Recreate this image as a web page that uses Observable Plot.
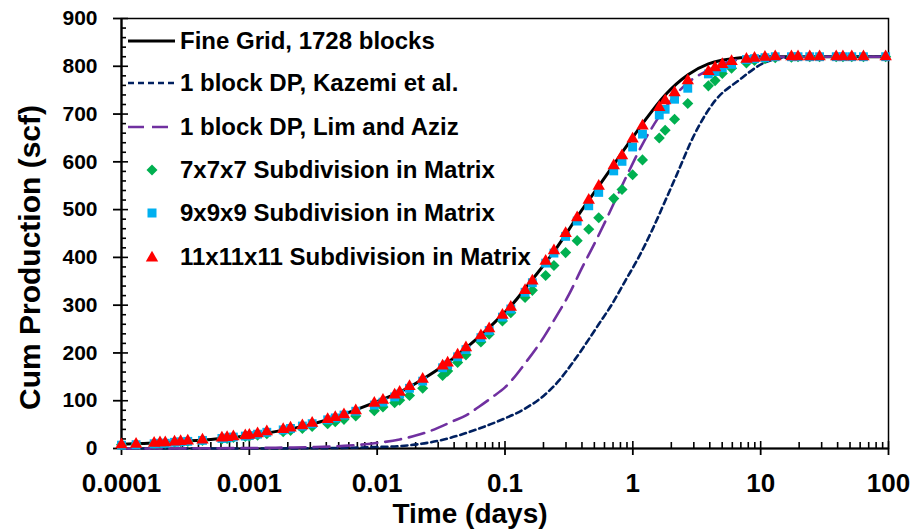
<!DOCTYPE html>
<html><head><meta charset="utf-8">
<script src="https://cdn.jsdelivr.net/npm/d3@7"></script>
<script src="https://cdn.jsdelivr.net/npm/@observablehq/plot@0.6"></script>
<style>
body{margin:0;background:#fff;}
#wrap{position:relative;width:915px;height:529px;font-family:"Liberation Sans",Arial,sans-serif;font-weight:bold;}
#legend{position:absolute;left:0;top:0;width:915px;height:529px;}
#chart{position:absolute;left:0;top:0;}
.row{position:absolute;left:128px;height:30px;display:flex;align-items:center;font-size:24px;color:#000;white-space:nowrap;}
.row svg{display:block;flex:none;}
</style></head><body>
<div id="wrap"><div id="legend"></div><div id="chart"></div></div>
<script>
// ---- data ----
const xTicks = [0.0001, 0.001, 0.01, 0.1, 1, 10, 100];
const xTickLabels = ["0.0001", "0.001", "0.01", "0.1", "1", "10", "100"];
const yTicks = [0, 100, 200, 300, 400, 500, 600, 700, 800, 900];
const yTickLabels = ["0", "100", "200", "300", "400", "500", "600", "700", "800", "900"];

const fineTimes  = [0.0001, 0.0002, 0.0003, 0.0005, 0.001, 0.002, 0.003, 0.005, 0.0095, 0.015, 0.0227, 0.0325, 0.05, 0.075, 0.111, 0.164, 0.249, 0.316, 0.357, 0.541, 0.798, 1.178, 1.79, 2.72, 3.9, 7.05, 10, 100];
const fineValues = [9, 12, 15, 19, 27, 40, 50, 68, 96, 118, 145, 172, 211, 253, 298, 354, 417, 458, 480, 549, 614, 678, 740, 783, 805, 818, 820, 820];

const kazemiTimes  = [0.0001, 0.001, 0.003, 0.0095, 0.015, 0.025, 0.037, 0.06, 0.09, 0.14, 0.2, 0.264, 0.335, 0.426, 0.541, 0.687, 0.873, 1.11, 1.41, 1.79, 2.14, 3.07, 4.4, 6.7, 10.8, 15.4, 30, 100];
const kazemiValues = [0, 0, 0.5, 3, 5, 12, 22, 40, 58, 82, 110, 142, 178, 218, 260, 302, 351, 400, 456, 518, 565, 660, 728, 770, 808, 818, 820, 820];

const limTimes  = [0.0001, 0.0003, 0.001, 0.002, 0.0033, 0.0055, 0.0095, 0.015, 0.02, 0.0256, 0.039, 0.05, 0.063, 0.08, 0.1, 0.15, 0.2, 0.25, 0.316, 0.4, 0.51, 0.647, 0.875, 1.18, 1.58, 2.6, 3.9, 5.9, 10, 20, 100];
const limValues = [0, 0.3, 1, 2, 3, 5.5, 11, 19, 27, 36, 57, 70, 88, 108, 128, 185, 232, 275, 322, 378, 433, 490, 565, 635, 692, 762, 792, 811, 818, 820, 820];

const markerTimes = [0.0001, 0.00013, 0.00018, 0.0002, 0.00022, 0.00026, 0.00029, 0.00033, 0.00043, 0.00061, 0.00067, 0.00075, 0.00093, 0.001, 0.00116, 0.00137, 0.00184, 0.0021, 0.0026, 0.0031, 0.0041, 0.0047, 0.0055, 0.0068, 0.0095, 0.0111, 0.0137, 0.015, 0.0179, 0.0227, 0.0325, 0.0356, 0.0426, 0.0495, 0.0648, 0.0752, 0.0955, 0.111, 0.1435, 0.1637, 0.208, 0.2415, 0.298, 0.367, 0.452, 0.541, 0.709, 0.823, 0.996, 1.19, 1.61, 1.79, 2.12, 2.69, 3.9, 4.4, 5.01, 5.92, 7.74, 8.95, 10.8, 13, 17.4, 19.6, 24.2, 28.9, 39, 44, 51.6, 63.7, 95];
const green7 = [8, 9, 10, 11, 11, 13, 14, 15, 17, 20, 21, 23, 25, 26, 28, 31, 35, 38, 42, 46, 52, 56, 61, 68, 79, 87, 96, 101, 111, 126, 153, 162, 180, 196, 223, 239, 267, 284, 316, 331, 362, 383, 410, 435, 459, 483, 523, 542, 573, 604, 650, 666, 689, 722, 759, 770, 785, 796, 807, 812, 816, 818, 819, 820, 820, 820, 820, 820, 820, 820, 820];
const blue9 = [7, 8, 10, 11, 11, 13, 14, 15, 17, 21, 22, 24, 26, 27, 30, 34, 39, 42, 47, 52, 60, 64, 70, 78, 91, 97, 108, 114, 126, 141, 169, 175, 192, 207, 232, 247, 275, 292, 327, 347, 388, 409, 444, 476, 508, 536, 581, 601, 631, 658, 698, 710, 731, 754, 784, 789, 797, 804, 814, 816, 818, 820, 820, 820, 820, 820, 820, 820, 820, 820, 820];
const red11 = [8, 9, 11, 12, 12, 14, 15, 16, 18, 22, 23, 25, 27, 28, 31, 35, 40, 43, 48, 53, 61, 65, 71, 79, 95, 101, 112, 118, 130, 145, 173, 179, 196, 211, 236, 251, 279, 296, 331, 351, 392, 414, 450, 483, 520, 549, 592, 613, 648, 675, 714, 728, 745, 770, 789, 797, 804, 810, 815, 817, 819, 820, 820, 820, 820, 820, 820, 820, 820, 820, 820];

const seriesNames = ["Fine Grid, 1728 blocks", "1 block DP, Kazemi et al.", "1 block DP, Lim and Aziz", "7x7x7 Subdivision in Matrix", "9x9x9 Subdivision in Matrix", "11x11x11 Subdivision in Matrix"];
const seriesColors = ["#000000", "#002060", "#7030A0", "#00B050", "#00B0F0", "#FF0000"];
const xTitle = "Time (days)";
const yTitle = "Cum Production (scf)";

// ---- tables ----
const toRows = (ts, vs) => ts.map((t, i) => ({t, v: vs[i]}));
const fine = toRows(fineTimes, fineValues);
const kazemi = toRows(kazemiTimes, kazemiValues);
const lim = toRows(limTimes, limValues);
const g7 = toRows(markerTimes, green7);
const b9 = toRows(markerTimes, blue9);
const r11 = toRows(markerTimes, red11);

const xMinor = [];
for (let e = -4; e < 2; e++) for (let m = 2; m <= 9; m++) xMinor.push(m * Math.pow(10, e));
const yMinor = d3.range(0, 901, 20).filter(v => v % 100 !== 0);

const font = "Liberation Sans, Arial, sans-serif";
const tickOnly = {fill: "none", label: null, strokeWidth: 1.6};

const chart = Plot.plot({
  width: 915, height: 529,
  marginLeft: 121, marginRight: 27, marginTop: 18, marginBottom: 81,
  style: {fontFamily: font, fontWeight: "bold", color: "#000", background: "transparent", overflow: "visible"},
  x: {type: "log", domain: [0.0001, 100]},
  y: {domain: [0, 900]},
  marks: [
    Plot.frame({stroke: "#000", strokeWidth: 1.5}),
    // x axis
    Plot.axisX({ticks: xTicks, tickSize: 7, tickPadding: 18, fontSize: 26, strokeWidth: 1.8,
      tickFormat: d => xTickLabels[xTicks.indexOf(d)], label: null}),
    Plot.axisX({ticks: xTicks, tickSize: -7, ...tickOnly}),
    Plot.axisX({ticks: xMinor, tickSize: -6, ...tickOnly}),
    // y axis
    Plot.axisY({ticks: yTicks, tickSize: 8, tickPadding: 16, fontSize: 21, strokeWidth: 1.8,
      tickFormat: d => yTickLabels[yTicks.indexOf(d)], label: null}),
    Plot.axisY({ticks: yTicks, tickSize: -7, ...tickOnly}),
    Plot.axisY({ticks: yMinor, tickSize: -5, ...tickOnly}),
    Plot.ruleY([0], {stroke: "#000", strokeWidth: 2.2}),
    Plot.ruleX([0.0001], {stroke: "#000", strokeWidth: 2.2}),
    // titles
    Plot.text([xTitle], {frameAnchor: "bottom", textAnchor: "middle", lineAnchor: "middle", dx: -35, dy: 66, fontSize: 28, fontWeight: "bold", fill: "#000"}),
    Plot.text([yTitle], {frameAnchor: "left", textAnchor: "middle", lineAnchor: "middle", rotate: -90, dx: -91, dy: 24, fontSize: 30, fontWeight: "bold", fill: "#000"}),
    // lines
    Plot.line(fine, {x: "t", y: "v", stroke: seriesColors[0], strokeWidth: 3, curve: "monotone-x"}),
    Plot.line(kazemi, {x: "t", y: "v", stroke: seriesColors[1], strokeWidth: 2.6, strokeDasharray: "6,4", curve: "monotone-x"}),
    Plot.line(lim, {x: "t", y: "v", stroke: seriesColors[2], strokeWidth: 2.6, strokeDasharray: "16,8", curve: "monotone-x"}),
    // markers
    Plot.dot(g7, {x: "t", y: "v", symbol: "diamond2", r: 5, fill: seriesColors[3], stroke: "none"}),
    Plot.dot(b9, {x: "t", y: "v", symbol: "square", r: 5, fill: seriesColors[4], stroke: "none"}),
    Plot.dot(r11, {x: "t", y: "v", symbol: "triangle", r: 4.6, fill: seriesColors[5], stroke: "none"})
  ]
});
document.getElementById("chart").appendChild(chart);

// ---- legend (behind the plot, like the reference) ----
const rowY = [41, 83, 127, 170, 213, 257];
const swatch = [
  `<line x1="0" y1="15" x2="47" y2="15" stroke="${seriesColors[0]}" stroke-width="3"/>`,
  `<line x1="0" y1="15" x2="47" y2="15" stroke="${seriesColors[1]}" stroke-width="2.6" stroke-dasharray="6,4"/>`,
  `<line x1="0" y1="15" x2="47" y2="15" stroke="${seriesColors[2]}" stroke-width="2.6" stroke-dasharray="16,8"/>`,
  `<path d="M24,9.5L29.5,15L24,20.5L18.5,15Z" fill="${seriesColors[3]}"/>`,
  `<rect x="19.5" y="10.5" width="9" height="9" fill="${seriesColors[4]}"/>`,
  `<path d="M24,8.8L30.2,19.5L17.8,19.5Z" fill="${seriesColors[5]}"/>`
];
const legend = document.getElementById("legend");
seriesNames.forEach((name, i) => {
  const row = document.createElement("div");
  row.className = "row";
  row.style.top = (rowY[i] - 15) + "px";
  row.innerHTML = `<svg width="52" height="30">${swatch[i]}</svg><span>${name}</span>`;
  legend.appendChild(row);
});
</script>
</body></html>
